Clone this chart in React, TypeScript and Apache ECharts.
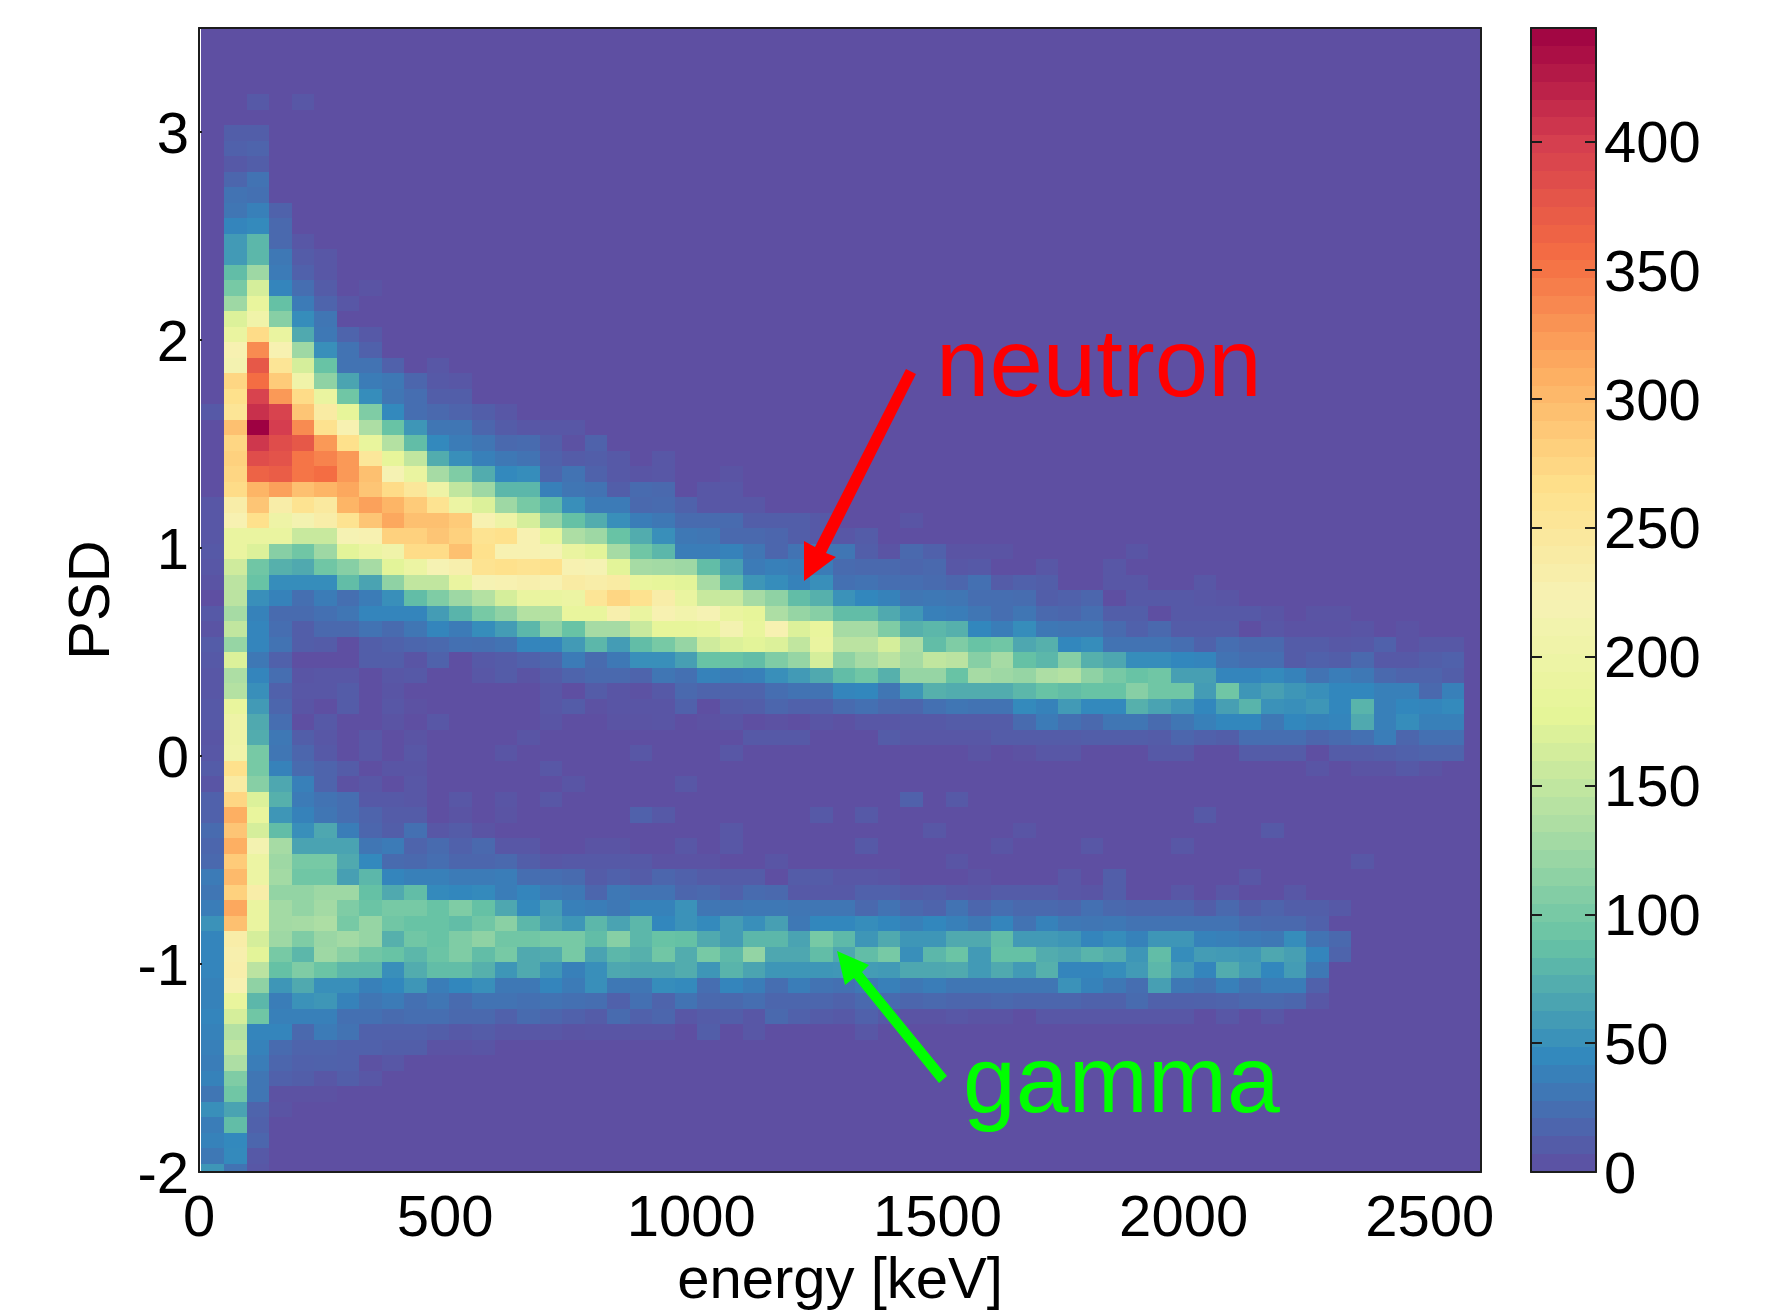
import React, { useEffect, useRef } from "react";
import * as echarts from "echarts";

// Counts per bin. Each row is a PSD bin (top to bottom), each entry an energy bin.
const upperRows: Record<number, number>[] = [
  [0,0,8,0,6],
  [],
  [0,12,12],
  [0,14,16],
  [0,8,12],
  [0,18,28],
  [0,28,26],
  [0,30,38,15],
  [0,42,46,20],
  [0,58,80,20,6],
  [0,58,80,32,10,6],
  [0,85,125,34,14,6],
  [0,100,165,42,24,10,0,4],
  [0,125,185,88,34,16,6],
  [0,170,205,110,48,30],
  [0,190,270,190,70,32,16,8],
  [0,225,335,225,125,50,28,14],
  [0,215,375,255,165,90,28,28,14,0,6],
  [0,275,355,285,205,115,66,35,32,18,8,6],
  [0,265,395,325,270,190,95,48,30,24,12,12],
  [8,255,410,395,290,240,180,105,45,24,20,16,12,6],
  [0,295,444,400,335,262,225,135,90,55,30,30,18,10,6,6,6],
  [0,275,405,385,375,325,265,185,140,85,45,35,30,20,22,12,2,15],
];
const neutronRows: Record<number, number>[] = [
  [0,280,385,380,350,340,325,250,180,150,72,50,38,32,28,15,10,12,8,0,6],
  [0,275,365,370,350,355,325,295,220,190,130,105,72,45,48,18,28,15,8,5,6,0,0,4],
  [0,270,305,320,295,305,315,290,270,250,200,150,125,80,80,38,30,28,12,22,20,0,6,6],
  [6,235,290,235,260,245,305,320,305,285,260,195,170,125,100,82,50,34,34,20,22,15,6,6,6],
  [6,225,265,200,215,235,260,290,315,295,295,285,225,200,165,120,88,72,50,36,32,22,22,22,12,12,12,8,0,0,0,5],
  [6,190,190,190,155,155,220,225,280,280,290,280,260,265,225,185,135,125,90,72,50,32,30,20,20,18,12,8,6,10],
  [8,190,170,110,95,125,175,195,205,270,270,295,265,225,225,220,190,175,130,95,80,36,36,40,30,18,28,30,30,12,4,20,14,4,4,4,0,0,0,0,0,5],
  [6,160,95,75,70,95,110,130,175,195,220,230,260,265,260,265,225,220,175,130,128,125,85,62,34,38,36,35,22,20,20,18,20,6,8,0,0,6,0,0,6],
  [4,145,90,48,48,48,85,65,115,150,150,190,220,225,230,225,240,235,240,185,180,175,130,80,55,48,40,50,26,28,24,24,22,18,26,10,14,12,0,0,6,6,0,0,6],
  [0,145,50,40,25,35,25,35,50,85,105,125,140,165,190,190,195,255,275,262,235,190,155,155,130,115,85,75,52,44,40,30,32,30,24,24,23,12,14,18,0,8,8,8,6,5],
  [8,130,40,22,22,26,30,42,42,42,60,78,100,115,140,140,185,185,230,190,225,210,220,190,180,135,120,110,85,85,70,56,38,36,30,24,30,20,18,24,12,12,0,8,8,8,8,5,0,4,4],
  [4,150,42,24,12,20,20,28,22,30,42,34,48,60,80,115,90,130,130,155,180,180,185,215,185,225,170,185,130,130,105,75,80,75,44,36,48,32,30,30,22,14,20,10,10,10,0,6,3,3,3,5,0,3],
  [10,120,42,28,12,10,0,12,15,18,20,26,25,28,42,42,58,80,60,85,100,120,160,170,175,170,150,190,145,145,165,135,85,105,90,95,68,75,44,48,28,28,28,24,15,24,20,20,10,10,7,8,14,3,7,7],
  [8,170,32,14,0,0,0,12,12,5,15,0,8,10,14,18,34,22,32,50,50,62,90,90,85,105,120,165,115,130,145,130,150,145,110,130,88,80,110,75,68,48,48,44,42,28,24,24,10,14,12,20,8,8,12,14],
  [6,135,42,24,5,6,6,0,6,8,0,0,6,10,4,10,16,20,20,16,30,26,40,36,38,50,58,70,85,95,75,120,120,90,130,125,120,135,140,115,100,90,95,62,62,42,42,46,40,28,36,32,20,16,16,12],
  [6,140,50,14,6,6,10,0,5,0,0,0,0,0,0,6,0,10,5,2,8,20,16,16,16,24,28,28,42,44,30,55,75,72,72,72,80,90,85,90,90,110,95,95,60,95,55,62,55,50,44,44,38,38,20,38],
  [8,185,58,18,5,0,10,0,6,2,0,0,0,0,0,6,10,2,5,5,5,14,0,10,12,18,14,14,22,26,20,18,26,30,28,28,46,40,58,45,45,75,65,56,44,62,78,52,50,55,44,78,38,44,42,46],
  [8,200,70,24,0,8,0,0,4,0,6,0,0,0,0,5,0,0,4,4,5,0,2,5,0,2,0,5,2,6,6,8,8,10,10,10,22,34,26,20,30,30,22,30,38,44,44,32,44,40,42,70,38,48,38,38],
];
const middleRows: Record<number, number>[] = [
  [5,200,72,32,12,6,0,6,0,4,0,0,0,0,5,0,0,0,0,0,0,0,0,0,8,8,8,0,0,0,10,6,6,6,6,10,10,10,10,12,12,12,10,18,14,12,24,24,24,18,22,26,36,18,26,26],
  [6,205,100,30,18,8,0,6,0,6,0,0,0,5,0,0,0,0,0,6,0,0,0,6,0,0,0,0,0,0,0,0,0,0,4,0,2,6,6,0,0,0,8,8,0,0,10,10,10,0,10,10,12,14,16,16],
  {0:10,1:265,2:100,3:40,4:22,5:16,6:10,8:5,9:5,15:6,49:5,51:4,52:4,53:8,54:4},
  {0:5,1:240,2:110,3:68,4:38,5:16,6:2,7:6,9:6,16:5,21:6},
  {0:14,1:275,2:170,3:75,4:34,5:28,6:24,7:8,8:8,9:6,11:6,13:5,15:6,31:14,33:8},
  {0:14,1:310,2:185,3:55,4:40,5:30,6:24,7:16,8:10,9:10,11:4,13:4,19:14,20:8,27:8,29:8,44:8},
  {0:22,1:290,2:165,3:85,4:50,5:68,6:36,7:18,8:12,9:26,10:6,11:10,12:4,23:6,32:6,36:5,47:8},
  {0:18,1:310,2:215,3:130,4:65,5:65,6:65,7:30,8:34,9:16,10:22,11:14,12:20,13:6,14:6,17:4,18:4,21:6,23:6,29:8,35:5,39:6,43:6},
  {0:20,1:285,2:195,3:125,4:100,5:100,6:70,7:45,8:22,9:20,10:24,11:18,12:18,13:20,14:12,15:6,16:8,17:8,18:8,19:8,20:3,21:3,22:3,25:5,33:5,51:6},
];
const gammaRows: Record<number, number>[] = [
  [34,300,195,128,95,95,62,80,42,38,38,34,34,36,24,24,22,10,14,10,18,14,10,10,10,0,10,10,6,6,5,0,0,0,3,0,0,0,6,0,12,0,0,0,0,0,6],
  [30,280,235,118,118,125,125,88,70,85,46,44,46,36,42,34,32,18,32,28,28,18,20,14,22,20,8,8,8,14,14,10,12,8,6,10,10,10,6,5,12,0,0,6,0,6,0,0,6],
  [36,315,190,128,118,128,105,92,100,100,90,105,88,68,46,60,38,36,32,40,40,52,30,30,32,32,30,30,30,20,28,20,16,28,18,24,20,20,18,26,20,18,18,18,12,20,12,16,12,12,8],
  [52,295,190,128,130,135,100,120,96,90,90,85,96,112,80,65,55,80,65,80,44,52,46,60,50,62,32,44,44,48,44,38,44,38,32,42,28,40,32,30,32,28,28,28,28,28,22,20,20,14],
  [42,235,165,125,105,122,128,120,75,96,90,105,115,96,96,100,100,85,110,80,90,88,70,60,80,80,65,100,82,55,70,55,55,70,70,85,58,58,55,42,48,40,55,55,40,38,34,32,48,28,20],
  [42,230,175,100,80,125,112,96,90,80,92,105,85,100,70,72,100,65,80,75,96,72,100,82,118,68,68,85,68,85,100,50,80,92,58,88,88,72,68,78,72,55,85,48,60,58,56,68,62,42,16],
  [42,232,145,88,105,92,80,80,50,72,85,85,75,55,70,55,38,50,68,66,66,72,55,78,66,55,55,55,56,60,58,68,68,70,58,70,58,75,42,42,48,58,80,58,42,72,60,44,60,32],
  [40,225,115,55,70,50,50,38,44,55,36,44,50,32,32,42,34,50,32,30,48,46,24,42,36,24,36,28,26,32,38,32,36,30,30,30,30,30,52,40,32,24,62,32,28,38,28,36,36,14],
  [40,185,80,36,52,55,40,30,34,26,30,22,28,28,26,28,26,24,14,26,16,28,20,20,24,18,18,18,15,20,22,18,20,18,18,20,18,18,18,15,15,22,14,14,15,16,20,20,18,6],
  [42,165,95,38,38,38,26,26,22,24,24,20,20,14,22,18,14,10,22,14,18,6,10,12,6,20,14,10,8,14,8,4,4,6,4,4,0,6,6,6,6,6,6,6,0,6,0,6],
  [40,140,42,42,20,34,28,14,14,14,12,8,10,6,6,6,4,5,5,5,5,0,12,0,6,0,0,0,0,6],
  [38,150,40,22,16,16,14,14,12,12,3,3,5],
  [36,135,36,18,14,15,14,2,6],
  [40,105,30,14,12,6,12,6],
  [30,95,30,2,2,2],
  [50,65,16,4],
  [36,85,14],
  [40,45,18],
  [32,46,8],
  [55,28,6],
];
const heatRows = [...upperRows, ...neutronRows, ...middleRows, ...gammaRows];

const spectral = ["#5e4fa2","#3288bd","#66c2a5","#abdda4","#e6f598","#f6f2b4","#fee08b","#fdae61","#f46d43","#d53e4f","#9e0142"];
const energyBins = 56;
const energyStart = 4.9;
const energyStep = 45.8;
const energyMax = 2604;
const psdStart = 3.181;
const psdStep = 0.07452;
const psdMin = -2;
const psdMax = 3.5;
const countMax = 444;
const colorLevels = 64;

const FONT = '"Liberation Sans", Arial, sans-serif';
const INK = "#1c1c1c";

function cellRender(xw: number, yh: number) {
  return (_: any, api: any) => {
    const a = api.coord([api.value(0), api.value(1)]);
    const b = api.coord([api.value(0) + xw, api.value(1) - yh]);
    const x0 = Math.round(a[0]), x1 = Math.round(b[0]);
    const y0 = Math.round(a[1]), y1 = Math.round(b[1]);
    return { type: "rect", shape: { x: x0, y: y0, width: x1 - x0, height: y1 - y0 }, style: { fill: api.visual("color") } };
  };
}

export default function App() {
  const ref = useRef<HTMLDivElement>(null);
  useEffect(() => {
    document.body.style.margin = "0";
    const chart = echarts.init(ref.current!, null, { renderer: "svg" });
    const heatData: number[][] = [];
    heatRows.forEach((row, r) => {
      for (let c = 0; c < energyBins; c++) {
        const v = row[c] || 0;
        if (v > 0) heatData.push([energyStart + c * energyStep, psdStart - r * psdStep, v]);
      }
    });
    const levelStep = countMax / colorLevels;
    const barData = Array.from({ length: colorLevels }, (_, i) => [0, (i + 1) * levelStep, i * levelStep + levelStep / 2]);
    const label = { fontFamily: FONT, fontSize: 58, color: "#000" };
    const line = { show: true, onZero: false, lineStyle: { color: INK, width: 2 } };
    const plain = (v: number) => String(v);
    chart.setOption({
      animation: false,
      backgroundColor: "#fff",
      grid: [
        { left: 199, top: 28, width: 1282, height: 1144, outerBoundsMode: "none" },
        { left: 1531, top: 28, width: 65, height: 1144, outerBoundsMode: "none" },
      ],
      visualMap: { show: false, seriesIndex: [1, 2], dimension: 2, min: 0, max: countMax, inRange: { color: spectral } },
      xAxis: [
        { type: "value", gridIndex: 0, min: 0, max: energyMax, interval: 500, z: 5, splitLine: { show: false }, axisLine: line,
          axisTick: { show: true, inside: true, length: 11, customValues: [0], lineStyle: { color: INK, width: 2 } },
          axisLabel: { ...label, margin: 14, showMaxLabel: false, hideOverlap: false, formatter: plain },
          name: "energy [keV]", nameLocation: "middle", nameGap: 75, nameTextStyle: label },
        { type: "value", gridIndex: 0, position: "top", min: 0, max: energyMax, z: 5, splitLine: { show: false }, axisLine: line, axisTick: { show: false }, axisLabel: { show: false } },
        { type: "value", gridIndex: 1, min: 0, max: 1, z: 5, splitLine: { show: false }, axisLine: line, axisTick: { show: false }, axisLabel: { show: false } },
        { type: "value", gridIndex: 1, position: "top", min: 0, max: 1, z: 5, splitLine: { show: false }, axisLine: line, axisTick: { show: false }, axisLabel: { show: false } },
      ],
      yAxis: [
        { type: "value", gridIndex: 0, min: psdMin, max: psdMax, interval: 1, z: 5, splitLine: { show: false }, axisLine: line,
          axisTick: { show: true, inside: true, length: 3, lineStyle: { color: INK, width: 2 } },
          axisLabel: { ...label, margin: 10, showMaxLabel: false, hideOverlap: false },
          name: "PSD", nameLocation: "middle", nameGap: 82, nameTextStyle: label },
        { type: "value", gridIndex: 0, position: "right", min: psdMin, max: psdMax, z: 5, splitLine: { show: false }, axisLine: line, axisTick: { show: false }, axisLabel: { show: false } },
        { type: "value", gridIndex: 1, position: "right", min: 0, max: countMax, interval: 50, z: 5, splitLine: { show: false }, axisLine: line,
          axisTick: { show: true, inside: true, length: 11, lineStyle: { color: INK, width: 2 } },
          axisLabel: { ...label, margin: 8, showMaxLabel: false, hideOverlap: false } },
        { type: "value", gridIndex: 1, position: "left", min: 0, max: countMax, interval: 50, z: 5, splitLine: { show: false }, axisLine: line,
          axisTick: { show: true, inside: true, length: 11, lineStyle: { color: INK, width: 2 } }, axisLabel: { show: false } },
      ],
      series: [
        { type: "custom", coordinateSystem: "cartesian2d", xAxisIndex: 0, yAxisIndex: 0, z: 1, silent: true, clip: true,
          data: [[energyStart, psdMax]],
          renderItem: (_: any, api: any) => {
            const a = api.coord([api.value(0), api.value(1)]);
            const b = api.coord([energyMax, psdMin]);
            return { type: "rect", shape: { x: Math.round(a[0]), y: a[1], width: b[0] - Math.round(a[0]), height: b[1] - a[1] }, style: { fill: spectral[0] } };
          } },
        { type: "custom", coordinateSystem: "cartesian2d", xAxisIndex: 0, yAxisIndex: 0, z: 2, silent: true, clip: true,
          dimensions: ["energy", "psd", "count"], encode: { x: 0, y: 1 },
          data: heatData, renderItem: cellRender(energyStep, psdStep) },
        { type: "custom", coordinateSystem: "cartesian2d", xAxisIndex: 2, yAxisIndex: 2, z: 2, silent: true, clip: true,
          dimensions: ["x", "top", "level"], encode: { x: 0, y: 1 },
          data: barData, renderItem: cellRender(1, levelStep) },
      ],
      graphic: { elements: [
        { type: "polygon", z: 10, silent: true, shape: { points: [[804,581],[804,541],[815,547],[906,369],[916,374],[826,553],[836,557]] }, style: { fill: "#ff0000" } },
        { type: "polygon", z: 10, silent: true, shape: { points: [[837,951],[845,985],[854,978],[939,1083],[947,1076],[862,972],[869,965]] }, style: { fill: "#00ff00" } },
        { type: "text", z: 10, silent: true, x: 936, y: 362, style: { text: "neutron", fill: "#ff0000", font: `96px ${FONT}`, verticalAlign: "middle", align: "left" } },
        { type: "text", z: 10, silent: true, x: 963, y: 1079, style: { text: "gamma", fill: "#00ff00", font: `95px ${FONT}`, verticalAlign: "middle", align: "left" } },
      ] },
    });
    return () => chart.dispose();
  }, []);
  return <div ref={ref} style={{ position: "absolute", left: 0, top: 0, width: 1775, height: 1315 }} />;
}
